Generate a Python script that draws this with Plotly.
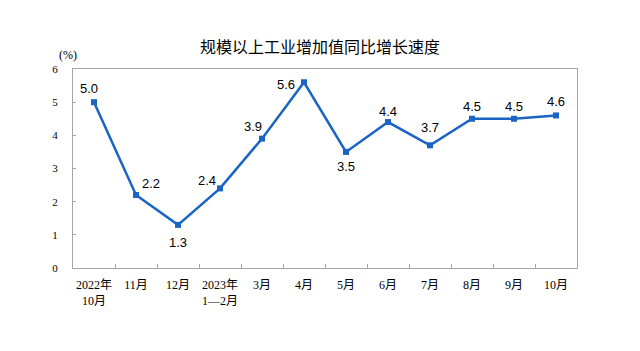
import plotly.graph_objects as go

categories = ["2022年<br>10月", "11月", "12月", "2023年<br>1—2月", "3月", "4月",
              "5月", "6月", "7月", "8月", "9月", "10月"]
values = [5.0, 2.2, 1.3, 2.4, 3.9, 5.6, 3.5, 4.4, 3.7, 4.5, 4.5, 4.6]
y_ticks = [0, 1, 2, 3, 4, 5, 6]
title_text = "规模以上工业增加值同比增长速度"
unit_text = "(%)"

# label offsets (pixels) per point
label_shift = [(-5, 14), (15, 12), (0, -18), (-13, 8), (-9, 12), (-18, -2),
               (0, -15), (0, 11), (0, 18), (0, 12), (0, 12), (0, 14)]

color = "#1a64c4"
frame = "#a6a6a6"

fig = go.Figure()
fig.add_trace(go.Scatter(
    x=categories, y=values, mode="lines+markers",
    line=dict(color=color, width=2.5),
    marker=dict(symbol="square", size=6, color=color),
    hoverinfo="skip", showlegend=False,
))

for c, v, (dx, dy) in zip(categories, values, label_shift):
    fig.add_annotation(x=c, y=v, text=f"{v:.1f}", showarrow=False,
                       xshift=dx, yshift=dy,
                       font=dict(family="Liberation Sans, Arial", size=13, color="#000000"))

fig.add_annotation(xref="paper", yref="paper", x=0, y=1.0, xshift=-5, yshift=14,
                   text=unit_text, showarrow=False, xanchor="center", yanchor="middle",
                   font=dict(family="Liberation Serif, Noto Sans CJK SC", size=12, color="#000"))

fig.update_layout(
    width=640, height=351,
    margin=dict(l=73, r=63, t=69, b=83),
    paper_bgcolor="white", plot_bgcolor="white",
    title=dict(text=title_text, x=0.5, xref="container", xanchor="center",
               y=1 - 47 / 351, yref="container", yanchor="middle",
               font=dict(family="Noto Sans CJK SC", size=16, color="#000")),
    xaxis=dict(type="category", range=[-0.5, len(categories) - 0.5],
               tickson="boundaries", ticks="inside", ticklen=4, tickcolor=frame,
               showline=True, linecolor=frame, linewidth=1, mirror=True,
               showgrid=False, zeroline=False, tickangle=0, ticklabelstandoff=6,
               tickfont=dict(family="Liberation Serif, Noto Sans CJK SC", size=12, color="#000")),
    yaxis=dict(range=[0, 6], tickvals=y_ticks, ticks="inside", ticklen=3, tickcolor=frame,
               showline=True, linecolor=frame, linewidth=1, mirror=True,
               showgrid=False, zeroline=False, ticklabelstandoff=12,
               tickfont=dict(family="Liberation Serif, Noto Sans CJK SC", size=11, color="#000")),
)

fig.write_html("out.html")
